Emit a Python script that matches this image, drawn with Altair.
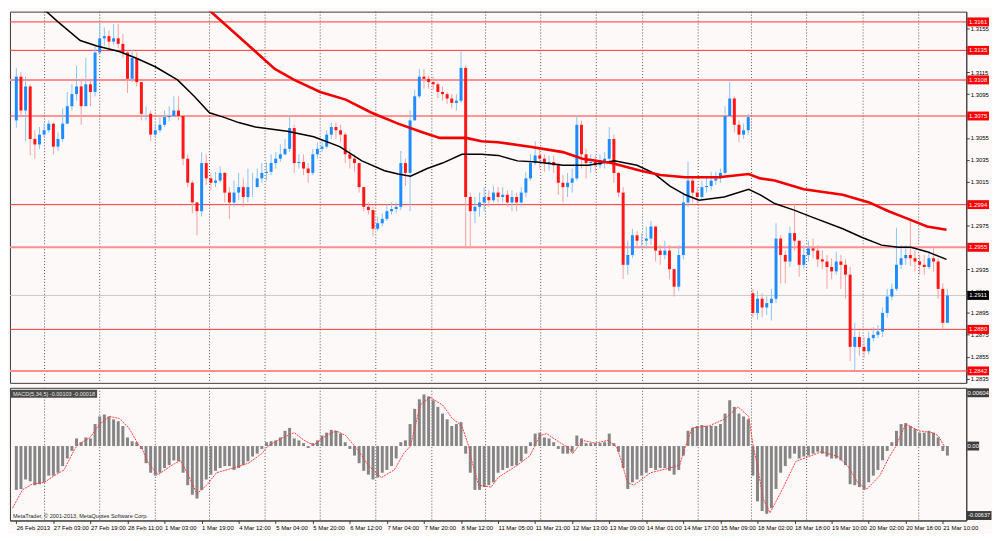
import altair as alt
import pandas as pd

# ---------------- values (2-hour bars) ----------------
opens = [
    1.3071, 1.3111, 1.3080, 1.3102, 1.3054, 1.3049, 1.3058, 1.3062, 1.3068, 1.3047,
    1.3054, 1.3068, 1.3084, 1.3095, 1.3102, 1.3084, 1.3104, 1.3097, 1.3133, 1.3146,
    1.3148, 1.3143, 1.3146, 1.3141, 1.3133, 1.3109, 1.3128, 1.3106, 1.3077, 1.3077,
    1.3058, 1.3062, 1.3067, 1.3074, 1.3075, 1.3080, 1.3075, 1.3036, 1.3014, 1.2996,
    1.2988, 1.3032, 1.3018, 1.3014, 1.3016, 1.3023, 1.3005, 1.2996, 1.3005, 1.3010,
    1.3001, 1.3010, 1.3010, 1.3018, 1.3023, 1.3024, 1.3032, 1.3036, 1.3040, 1.3045,
    1.3064, 1.3032, 1.3033, 1.3027, 1.3023, 1.3040, 1.3045, 1.3047, 1.3058, 1.3065,
    1.3062, 1.3058, 1.3040, 1.3036, 1.3032, 1.3010, 1.2992, 1.2989, 1.2972, 1.2977,
    1.2981, 1.2988, 1.2990, 1.2992, 1.3032, 1.3023, 1.3071, 1.3093, 1.3111, 1.3109,
    1.3106, 1.3104, 1.3097, 1.3095, 1.3091, 1.3087, 1.3089, 1.3119, 1.3001, 1.2988,
    1.2992, 1.2996, 1.3001, 1.2998, 1.3005, 1.3001, 1.3003, 1.2996, 1.3001, 1.2996,
    1.3005, 1.3018, 1.3032, 1.3039, 1.3036, 1.3032, 1.3033, 1.3030, 1.3014, 1.3010,
    1.3014, 1.3018, 1.3067, 1.3040, 1.3032, 1.3033, 1.3030, 1.3033, 1.3036, 1.3054,
    1.3023, 1.3005, 1.2939, 1.2948, 1.2966, 1.2961, 1.2961, 1.2963, 1.2974, 1.2952,
    1.2948, 1.2952, 1.2935, 1.2919, 1.2948, 1.2996, 1.3016, 1.3005, 1.3001, 1.3010,
    1.3011, 1.3016, 1.3018, 1.3023, 1.3075, 1.3091, 1.3067, 1.3058, 1.3062, 1.2913,
    1.2895, 1.2908, 1.2900, 1.2904, 1.2908, 1.2963, 1.2948, 1.2942, 1.2968, 1.2961,
    1.2939, 1.2948, 1.2954, 1.2952, 1.2944, 1.2942, 1.2937, 1.2933, 1.2942, 1.2939,
    1.2930, 1.2864, 1.2873, 1.2864, 1.2860, 1.2872, 1.2875, 1.2878, 1.2895, 1.2910,
    1.2917, 1.2939, 1.2945, 1.2948, 1.2945, 1.2942, 1.2939, 1.2937, 1.2945, 1.2942,
    1.2917, 1.2886]

highs = [
    1.3119, 1.3115, 1.3111, 1.3104, 1.3062, 1.3065, 1.3068, 1.3071, 1.3069, 1.3060,
    1.3082, 1.3097, 1.3104, 1.3121, 1.3109, 1.3128, 1.3109, 1.3139, 1.3161, 1.3156,
    1.3153, 1.3159, 1.3159, 1.3150, 1.3135, 1.3135, 1.3133, 1.3106, 1.3084, 1.3080,
    1.3068, 1.3074, 1.3080, 1.3084, 1.3093, 1.3093, 1.3075, 1.3040, 1.3016, 1.2996,
    1.3042, 1.3040, 1.3023, 1.3024, 1.3029, 1.3024, 1.3010, 1.3016, 1.3023, 1.3018,
    1.3027, 1.3023, 1.3027, 1.3032, 1.3033, 1.3040, 1.3042, 1.3049, 1.3054, 1.3075,
    1.3067, 1.3040, 1.3040, 1.3032, 1.3045, 1.3051, 1.3054, 1.3062, 1.3069, 1.3069,
    1.3067, 1.3060, 1.3045, 1.3040, 1.3032, 1.3010, 1.2996, 1.2992, 1.2983, 1.2986,
    1.2994, 1.2996, 1.2996, 1.3043, 1.3036, 1.3080, 1.3099, 1.3118, 1.3118, 1.3112,
    1.3111, 1.3106, 1.3102, 1.3097, 1.3095, 1.3095, 1.3134, 1.3121, 1.3005, 1.3001,
    1.3005, 1.3010, 1.3007, 1.3011, 1.3010, 1.3010, 1.3007, 1.3007, 1.3005, 1.3010,
    1.3024, 1.3040, 1.3052, 1.3045, 1.3040, 1.3039, 1.3039, 1.3032, 1.3021, 1.3023,
    1.3027, 1.3075, 1.3071, 1.3045, 1.3040, 1.3039, 1.3040, 1.3042, 1.3065, 1.3058,
    1.3024, 1.3010, 1.2961, 1.2972, 1.2970, 1.2968, 1.2974, 1.2979, 1.2974, 1.2957,
    1.2961, 1.2957, 1.2935, 1.2957, 1.3005, 1.3033, 1.3018, 1.3010, 1.3016, 1.3018,
    1.3024, 1.3024, 1.3027, 1.3084, 1.3106, 1.3093, 1.3071, 1.3068, 1.3077, 1.2917,
    1.2915, 1.2913, 1.2910, 1.2917, 1.2977, 1.2966, 1.2952, 1.2974, 1.2995, 1.2961,
    1.2957, 1.2961, 1.2963, 1.2957, 1.2952, 1.2948, 1.2945, 1.2951, 1.2948, 1.2944,
    1.2937, 1.2886, 1.2878, 1.2873, 1.2878, 1.2882, 1.2884, 1.2900, 1.2917, 1.2922,
    1.2973, 1.2957, 1.2957, 1.2979, 1.2952, 1.2948, 1.2948, 1.2952, 1.2954, 1.2945,
    1.2922, 1.2917]

lows = [
    1.3064, 1.3074, 1.3052, 1.3039, 1.3036, 1.3045, 1.3056, 1.3060, 1.3040, 1.3043,
    1.3051, 1.3068, 1.3080, 1.3089, 1.3067, 1.3084, 1.3084, 1.3093, 1.3133, 1.3139,
    1.3137, 1.3140, 1.3137, 1.3128, 1.3096, 1.3106, 1.3102, 1.3071, 1.3071, 1.3052,
    1.3055, 1.3060, 1.3065, 1.3070, 1.3074, 1.3071, 1.3030, 1.3010, 1.2986, 1.2966,
    1.2983, 1.3012, 1.3007, 1.3010, 1.3014, 1.2996, 1.2981, 1.2992, 1.2998, 1.2992,
    1.2996, 1.3001, 1.3010, 1.3014, 1.3016, 1.3021, 1.3027, 1.3033, 1.3039, 1.3042,
    1.3023, 1.3027, 1.3021, 1.3014, 1.3021, 1.3036, 1.3042, 1.3045, 1.3054, 1.3054,
    1.3051, 1.3032, 1.3027, 1.3024, 1.3005, 1.2988, 1.2985, 1.2965, 1.2970, 1.2974,
    1.2979, 1.2985, 1.2986, 1.2989, 1.3011, 1.2988, 1.3071, 1.3091, 1.3100, 1.3100,
    1.3099, 1.3091, 1.3089, 1.3086, 1.3082, 1.3080, 1.3087, 1.2954, 1.2954, 1.2977,
    1.2983, 1.2988, 1.2992, 1.2996, 1.2996, 1.2996, 1.2992, 1.2988, 1.2988, 1.2992,
    1.3001, 1.3016, 1.3030, 1.3027, 1.3024, 1.3025, 1.3023, 1.3003, 1.2996, 1.3001,
    1.3005, 1.3016, 1.3027, 1.3018, 1.3023, 1.3024, 1.3027, 1.3027, 1.3032, 1.3014,
    1.3001, 1.2926, 1.2930, 1.2945, 1.2954, 1.2954, 1.2954, 1.2957, 1.2942, 1.2939,
    1.2944, 1.2926, 1.2910, 1.2915, 1.2944, 1.2992, 1.2996, 1.2995, 1.2998, 1.3005,
    1.3007, 1.3012, 1.3014, 1.3021, 1.3074, 1.3060, 1.3051, 1.3054, 1.3058, 1.2891,
    1.2889, 1.2891, 1.2893, 1.2888, 1.2904, 1.2922, 1.2922, 1.2937, 1.2952, 1.2928,
    1.2935, 1.2942, 1.2945, 1.2937, 1.2935, 1.2917, 1.2926, 1.2930, 1.2917, 1.2908,
    1.2851, 1.2843, 1.2856, 1.2854, 1.2857, 1.2869, 1.2872, 1.2873, 1.2891, 1.2907,
    1.2915, 1.2935, 1.2939, 1.2938, 1.2933, 1.2930, 1.2930, 1.2935, 1.2933, 1.2908,
    1.2880, 1.2889]

closes = [
    1.3111, 1.3080, 1.3102, 1.3054, 1.3049, 1.3058, 1.3062, 1.3068, 1.3047, 1.3054,
    1.3068, 1.3084, 1.3095, 1.3102, 1.3084, 1.3104, 1.3097, 1.3133, 1.3146, 1.3148,
    1.3143, 1.3146, 1.3141, 1.3133, 1.3109, 1.3128, 1.3106, 1.3077, 1.3077, 1.3058,
    1.3062, 1.3067, 1.3074, 1.3075, 1.3080, 1.3075, 1.3036, 1.3014, 1.2996, 1.2988,
    1.3032, 1.3018, 1.3014, 1.3016, 1.3023, 1.3005, 1.2996, 1.3005, 1.3010, 1.3001,
    1.3010, 1.3010, 1.3018, 1.3023, 1.3024, 1.3032, 1.3036, 1.3040, 1.3045, 1.3064,
    1.3032, 1.3033, 1.3027, 1.3023, 1.3040, 1.3045, 1.3047, 1.3058, 1.3065, 1.3062,
    1.3058, 1.3040, 1.3036, 1.3032, 1.3010, 1.2992, 1.2989, 1.2972, 1.2977, 1.2981,
    1.2988, 1.2990, 1.2992, 1.3032, 1.3023, 1.3071, 1.3093, 1.3111, 1.3109, 1.3106,
    1.3104, 1.3097, 1.3095, 1.3091, 1.3087, 1.3089, 1.3119, 1.3001, 1.2988, 1.2992,
    1.2996, 1.3001, 1.2998, 1.3005, 1.3001, 1.3003, 1.2996, 1.3001, 1.2996, 1.3005,
    1.3018, 1.3032, 1.3039, 1.3036, 1.3032, 1.3033, 1.3030, 1.3014, 1.3010, 1.3014,
    1.3018, 1.3067, 1.3040, 1.3032, 1.3033, 1.3030, 1.3033, 1.3036, 1.3054, 1.3023,
    1.3005, 1.2939, 1.2948, 1.2966, 1.2961, 1.2961, 1.2963, 1.2974, 1.2952, 1.2948,
    1.2952, 1.2935, 1.2919, 1.2948, 1.2996, 1.3016, 1.3005, 1.3001, 1.3010, 1.3011,
    1.3016, 1.3018, 1.3023, 1.3075, 1.3091, 1.3067, 1.3058, 1.3062, 1.3074, 1.2895,
    1.2908, 1.2900, 1.2904, 1.2908, 1.2963, 1.2948, 1.2942, 1.2968, 1.2961, 1.2939,
    1.2948, 1.2954, 1.2952, 1.2944, 1.2942, 1.2937, 1.2933, 1.2942, 1.2939, 1.2930,
    1.2864, 1.2873, 1.2864, 1.2860, 1.2872, 1.2875, 1.2878, 1.2895, 1.2910, 1.2917,
    1.2939, 1.2945, 1.2948, 1.2945, 1.2942, 1.2939, 1.2937, 1.2945, 1.2942, 1.2917,
    1.2886, 1.2911]

macd_hist = [
    -0.00455, -0.00446, -0.00347, -0.00366, -0.00406, -0.00396, -0.00376, -0.00307, -0.00307, -0.00277,
    -0.00208, -0.00129, -0.00050, 0.00079, 0.00040, 0.00089, 0.00079, 0.00228, 0.00307, 0.00327,
    0.00307, 0.00277, 0.00257, 0.00208, 0.00089, 0.00050, 0.00040, -0.00030, -0.00178, -0.00277,
    -0.00307, -0.00277, -0.00228, -0.00198, -0.00149, -0.00158, -0.00277, -0.00406, -0.00505, -0.00545,
    -0.00455, -0.00347, -0.00297, -0.00257, -0.00228, -0.00208, -0.00208, -0.00248, -0.00228, -0.00198,
    -0.00158, -0.00109, -0.00079, -0.00030, 0.00040, 0.00050, 0.00059, 0.00089, 0.00158, 0.00188,
    0.00079, 0.00059, 0.00030, -0.00020, 0.00030, 0.00059, 0.00109, 0.00139, 0.00168, 0.00158,
    0.00129, 0.00040, -0.00030, -0.00099, -0.00178, -0.00257, -0.00297, -0.00347, -0.00327, -0.00277,
    -0.00248, -0.00208, -0.00129, 0.00040, 0.00059, 0.00228, 0.00386, 0.00485, 0.00535, 0.00515,
    0.00475, 0.00406, 0.00337, 0.00277, 0.00208, 0.00228, 0.00248, -0.00079, -0.00277, -0.00455,
    -0.00455, -0.00426, -0.00406, -0.00376, -0.00277, -0.00248, -0.00228, -0.00208, -0.00198, -0.00158,
    -0.00079, 0.00040, 0.00129, 0.00139, 0.00089, 0.00079, 0.00040, -0.00030, -0.00079, -0.00079,
    -0.00059, 0.00109, 0.00079, 0.00030, 0.00030, 0.00030, 0.00030, 0.00040, 0.00129, 0.00030,
    -0.00059, -0.00228, -0.00446, -0.00376, -0.00347, -0.00307, -0.00277, -0.00228, -0.00248, -0.00228,
    -0.00228, -0.00257, -0.00297, -0.00248, -0.00099, 0.00158, 0.00188, 0.00208, 0.00218, 0.00208,
    0.00208, 0.00208, 0.00228, 0.00337, 0.00475, 0.00406, 0.00337, 0.00307, 0.00277, -0.00307,
    -0.00574, -0.00673, -0.00703, -0.00644, -0.00446, -0.00277, -0.00208, -0.00129, -0.00079, -0.00129,
    -0.00109, -0.00099, -0.00079, -0.00059, -0.00079, -0.00109, -0.00129, -0.00129, -0.00149, -0.00198,
    -0.00396, -0.00406, -0.00426, -0.00455, -0.00376, -0.00307, -0.00248, -0.00149, -0.00050, 0.00040,
    0.00158, 0.00228, 0.00238, 0.00208, 0.00178, 0.00139, 0.00139, 0.00158, 0.00139, 0.00089,
    -0.00050, -0.00099]

sig_idx = [
    -0.8, 1.3, 3.4, 6.1, 8.2, 10.3, 12.4, 13.2, 15.9, 18.0,
    20.1, 22.2, 24.3, 26.4, 27.0, 28.5, 30.6, 33.3, 35.4, 36.9,
    39.0, 41.1, 43.2, 46.8, 50.1, 53.0, 54.3, 57.2, 60.0, 62.1,
    64.2, 66.9, 69.0, 71.1, 73.2, 74.0, 76.1, 78.8, 81.6, 83.6,
    85.1, 87.2, 89.3, 92.0, 94.1, 96.2, 97.7, 98.3, 99.8, 102.5,
    104.0, 108.2, 110.9, 113.0, 114.5, 117.2, 119.3, 120.1, 122.2, 125.0,
    127.7, 129.6, 130.6, 131.9, 133.3, 136.9, 141.1, 143.2, 144.4, 145.9,
    149.5, 152.8, 155.8, 158.1, 159.1, 160.0, 161.2, 162.7, 165.4, 168.3,
    171.1, 173.8, 177.4, 179.5, 181.6, 183.6, 186.4, 188.5, 189.9, 192.0,
    194.8, 197.7, 199.0, 200.4]
sig_val = [
    -0.00644, -0.00455, -0.00396, -0.00376, -0.00307, -0.00248, -0.00050, 0.00010, 0.00089, 0.00228,
    0.00307, 0.00287, 0.00188, 0.00010, -0.00010, -0.00178, -0.00297, -0.00208, -0.00149, -0.00277,
    -0.00495, -0.00406, -0.00277, -0.00228, -0.00178, -0.00079, 0.00000, 0.00079, 0.00139, 0.00059,
    0.00010, 0.00109, 0.00158, 0.00109, -0.00010, -0.00059, -0.00208, -0.00327, -0.00248, -0.00079,
    0.00000, 0.00426, 0.00505, 0.00426, 0.00287, 0.00208, -0.00010, -0.00149, -0.00406, -0.00426,
    -0.00327, -0.00198, -0.00099, 0.00109, 0.00129, 0.00040, -0.00020, -0.00079, 0.00059, 0.00030,
    0.00059, -0.00010, -0.00149, -0.00376, -0.00406, -0.00277, -0.00228, -0.00198, -0.00010, 0.00188,
    0.00208, 0.00277, 0.00406, 0.00307, -0.00010, -0.00208, -0.00545, -0.00693, -0.00446, -0.00158,
    -0.00109, -0.00059, -0.00109, -0.00208, -0.00376, -0.00446, -0.00307, -0.00109, 0.00000, 0.00228,
    0.00158, 0.00139, 0.00109, -0.00010]

ma_black_idx = [
    6.1, 9.0, 13.8, 17.4, 22.2, 25.8, 30.0, 34.8, 38.4, 41.7,
    44.7, 48.0, 51.6, 58.5, 64.2, 69.8, 74.6, 79.5, 82.4, 85.1,
    88.7, 92.0, 96.2, 100.4, 104.0, 108.2, 112.4, 118.0, 123.5, 129.1,
    134.0, 137.5, 141.1, 144.4, 147.4, 152.8, 158.1, 160.6, 163.7, 167.9,
    171.5, 178.4, 182.6, 186.8, 190.4, 193.1, 196.6, 200.8]
ma_black_val = [
    1.3172, 1.3161, 1.3144, 1.3139, 1.3134, 1.3128, 1.3120, 1.3108, 1.3093, 1.3078,
    1.3074, 1.3069, 1.3065, 1.3061, 1.3056, 1.3047, 1.3034, 1.3025, 1.3022, 1.3020,
    1.3027, 1.3032, 1.3040, 1.3040, 1.3039, 1.3034, 1.3033, 1.3030, 1.3030, 1.3034,
    1.3030, 1.3023, 1.3011, 1.3003, 1.2998, 1.3001, 1.3008, 1.3003, 1.2995, 1.2989,
    1.2983, 1.2972, 1.2964, 1.2957, 1.2955, 1.2955, 1.2951, 1.2944]

ma_red_idx = [
    41.3, 51.6, 55.8, 60.0, 65.6, 71.1, 76.7, 82.4, 87.8, 91.4,
    97.1, 100.4, 104.0, 110.9, 118.0, 122.2, 128.5, 134.8, 139.0, 144.4,
    151.6, 158.1, 160.6, 163.7, 170.0, 178.4, 184.1, 188.3, 192.5, 196.6,
    200.8]
ma_red_val = [
    1.3173, 1.3134, 1.3118, 1.3108, 1.3097, 1.3090, 1.3078, 1.3068, 1.3060, 1.3055,
    1.3055, 1.3052, 1.3051, 1.3047, 1.3042, 1.3036, 1.3032, 1.3025, 1.3021, 1.3019,
    1.3019, 1.3022, 1.3018, 1.3016, 1.3008, 1.3003, 1.2996, 1.2988, 1.2981, 1.2974,
    1.2971]

levels_thin = [1.3161, 1.3135, 1.3075, 1.2994, 1.2880]
levels_thick = [1.3108, 1.2955, 1.2842]
last_price = 1.2911

price_ticks = [1.2835, 1.2855, 1.2875, 1.2895, 1.2915, 1.2935, 1.2955, 1.2975, 1.2995,
               1.3015, 1.3035, 1.3055, 1.3075, 1.3095, 1.3115, 1.3135, 1.3155]

x_labels = ["26 Feb 2013", "27 Feb 03:00", "27 Feb 19:00", "28 Feb 11:00", "1 Mar 03:00",
            "1 Mar 19:00", "4 Mar 12:00", "5 Mar 04:00", "5 Mar 20:00", "6 Mar 12:00",
            "7 Mar 04:00", "7 Mar 20:00", "8 Mar 12:00", "11 Mar 05:00", "11 Mar 21:00",
            "12 Mar 13:00", "13 Mar 09:00", "14 Mar 01:00", "14 Mar 17:00", "15 Mar 09:00",
            "18 Mar 02:00", "18 Mar 18:00", "19 Mar 10:00", "20 Mar 02:00", "20 Mar 18:00",
            "21 Mar 10:00"]
bars_per_label = 8

grid_idx = [6.1, 18.0, 30.0, 41.7, 53.7, 65.6, 77.6, 89.7, 101.3, 113.2, 125.2,
            135.2, 147.2, 158.7, 170.6, 182.8, 194.8]

macd_title = "MACD(5,34,5) -0.00103 -0.00018"
macd_max_label = "0.00604"
macd_zero_label = "0.00"
macd_min_label = "-0.00637"
copyright_text = "MetaTrader, \u00a9 2001-2013, MetaQuotes Software Corp."

# ---------------- layout / style ----------------
W, H1, H2 = 966, 375, 134
BG = "#fdf9f8"
FONT = "Liberation Sans"
UP, DN = "#1e8cff", "#ff1616"
UPW, DNW = "#8ec3f3", "#f5a2a2"
FRAME = "#3c3c3c"

N = len(closes)
bars = pd.DataFrame({"i": list(range(N)), "open": opens, "high": highs,
                     "low": lows, "close": closes, "macd": macd_hist})

xs = alt.Scale(domain=[-0.3, 204.0], nice=False, zero=False)
ps = alt.Scale(domain=[1.28311, 1.31704], nice=False, zero=False)
ms = alt.Scale(domain=[-0.00772, 0.00604], nice=False, zero=False)

p_axis = alt.Axis(orient="right", values=price_ticks, format=".4f", title=None, grid=False,
                  labelFontSize=6, labelFont=FONT, labelColor="#000", labelPadding=1,
                  tickSize=3, tickColor=FRAME, domainColor=FRAME, labelOverlap=False,
                  labelFlush=False)
m_axis = alt.Axis(orient="right", labels=False, ticks=False, title=None, grid=False,
                  domainColor=FRAME)
label_expr = "[" + ",".join(repr(s) for s in x_labels) + "][round(datum.value / %d)]" % bars_per_label
x_axis = alt.Axis(values=list(range(0, bars_per_label * len(x_labels), bars_per_label)),
                  labelExpr=label_expr, title=None, grid=False, labelAlign="left",
                  labelBaseline="top", labelFontSize=6, labelFont=FONT, labelColor="#000",
                  labelPadding=1, tickSize=3, tickColor=FRAME, domainColor=FRAME,
                  labelOverlap=False, labelFlush=False, labelBound=False)


def xp(f="i:Q"):
    return alt.X(f, scale=xs, axis=None)


def yp(f):
    return alt.Y(f, scale=ps, axis=p_axis)


def xm(f="i:Q"):
    return alt.X(f, scale=xs, axis=x_axis)


def ym(f):
    return alt.Y(f, scale=ms, axis=m_axis)


def box(w, h):
    s = float(max(w, h))
    a, b = w / s, h / s
    return "M-%.3f,-%.3fL%.3f,-%.3fL%.3f,%.3fL-%.3f,%.3fZ" % (a, b, a, b, a, b, a, b), s * s


up_test = alt.datum.close >= alt.datum.open
grid_df = pd.DataFrame({"i": grid_idx})

# ---------------- price panel ----------------
grid_p = alt.Chart(grid_df).mark_rule(color="#555", strokeDash=[1, 2], strokeWidth=1).encode(x=xp())
last_line = alt.Chart(pd.DataFrame({"p": [last_price]})).mark_rule(
    color="#c8c8c8", strokeWidth=1).encode(y=yp("p:Q"))
lv_thin = alt.Chart(pd.DataFrame({"p": levels_thin})).mark_rule(
    color="#ff3434", strokeWidth=1).encode(y=yp("p:Q"))
lv_thick = alt.Chart(pd.DataFrame({"p": levels_thick})).mark_rule(
    color="#ff8e8e", strokeWidth=2).encode(y=yp("p:Q"))
wicks = alt.Chart(bars).mark_rule(strokeWidth=1).encode(
    x=xp(), y=yp("low:Q"), y2="high:Q",
    color=alt.condition(up_test, alt.value(UPW), alt.value(DNW)))
bodies = alt.Chart(bars).mark_bar(width=3).encode(
    x=xp(), y=yp("open:Q"), y2="close:Q",
    color=alt.condition(up_test, alt.value(UP), alt.value(DN)))
ma_b = alt.Chart(pd.DataFrame({"i": ma_black_idx, "p": ma_black_val})).mark_line(
    color="#000000", strokeWidth=1.5, clip=True).encode(x=xp(), y=yp("p:Q"))
ma_r = alt.Chart(pd.DataFrame({"i": ma_red_idx, "p": ma_red_val})).mark_line(
    color="#f20000", strokeWidth=2.6, clip=True).encode(x=xp(), y=yp("p:Q"))

lvl_all = levels_thin + levels_thick
lv_df = pd.DataFrame({"p": lvl_all, "t": ["%.4f" % v for v in lvl_all]})
last_df = pd.DataFrame({"p": [last_price], "t": ["%.4f" % last_price]})
bp, bs = box(22, 9)
red_box = alt.Chart(lv_df).mark_point(shape=bp, size=bs, filled=True, opacity=1,
                                      color="#ff0000", strokeWidth=0).encode(
    x=alt.value(W + 12), y=yp("p:Q"))
red_txt = alt.Chart(lv_df).mark_text(color="#ffffff", fontSize=6, font=FONT,
                                     align="center", baseline="middle").encode(
    x=alt.value(W + 12), y=yp("p:Q"), text="t:N")
blk_box = alt.Chart(last_df).mark_point(shape=bp, size=bs, filled=True, opacity=1,
                                        color="#000000", strokeWidth=0).encode(
    x=alt.value(W + 12), y=yp("p:Q"))
blk_txt = alt.Chart(last_df).mark_text(color="#ffffff", fontSize=6, font=FONT,
                                       align="center", baseline="middle").encode(
    x=alt.value(W + 12), y=yp("p:Q"), text="t:N")

price = alt.layer(grid_p, last_line, lv_thin, lv_thick, wicks, bodies, ma_b, ma_r,
                  red_box, red_txt, blk_box, blk_txt).properties(width=W, height=H1)

# ---------------- MACD panel ----------------
grid_m = alt.Chart(grid_df).mark_rule(color="#555", strokeDash=[1, 2], strokeWidth=1).encode(x=xm())
hist = alt.Chart(bars).mark_bar(width=3, color="#858585").encode(
    x=xm(), y=ym("macd:Q"), y2=alt.datum(0))
sig = alt.Chart(pd.DataFrame({"i": sig_idx, "v": sig_val})).mark_line(
    color="#ff3a3a", strokeWidth=1, strokeDash=[2, 1], clip=True).encode(x=xm(), y=ym("v:Q"))

zp, zs = box(12, 9)
tp, ts = box(22, 9)
lp, ls = box(25, 9)
zero_df = pd.DataFrame({"v": [0.0], "t": [macd_zero_label]})
zero_box = alt.Chart(zero_df).mark_point(shape=zp, size=zs, filled=True, opacity=1,
                                         color="#3c3c3c", strokeWidth=0).encode(
    x=alt.value(W + 7), y=ym("v:Q"))
zero_txt = alt.Chart(zero_df).mark_text(color="#ffffff", fontSize=6, font=FONT,
                                        align="center", baseline="middle").encode(
    x=alt.value(W + 7), y=ym("v:Q"), text="t:N")
top_df = pd.DataFrame({"t": [macd_max_label]})
top_box = alt.Chart(top_df).mark_point(shape=tp, size=ts, filled=True, opacity=1,
                                       color="#3c3c3c", strokeWidth=0).encode(
    x=alt.value(W + 12), y=alt.value(5))
top_txt = alt.Chart(top_df).mark_text(color="#ffffff", fontSize=6, font=FONT,
                                      align="center", baseline="middle").encode(
    x=alt.value(W + 12), y=alt.value(5), text="t:N")
bot_df = pd.DataFrame({"t": [macd_min_label]})
bot_box = alt.Chart(bot_df).mark_point(shape=lp, size=ls, filled=True, opacity=1,
                                       color="#3c3c3c", strokeWidth=0).encode(
    x=alt.value(W + 13), y=alt.value(H2 - 5))
bot_txt = alt.Chart(bot_df).mark_text(color="#ffffff", fontSize=5.6, font=FONT,
                                      align="center", baseline="middle").encode(
    x=alt.value(W + 13), y=alt.value(H2 - 5), text="t:N")

title_df = pd.DataFrame({"t": [macd_title]})
title_box = alt.Chart(title_df).mark_rect(color="#4a4a4a").encode(
    x=alt.value(1), x2=alt.value(88), y=alt.value(2), y2=alt.value(10))
title_txt = alt.Chart(title_df).mark_text(color="#e4e4e4", fontSize=5.6, font=FONT,
                                          align="left", baseline="middle").encode(
    x=alt.value(3), y=alt.value(6), text="t:N")
copy_df = pd.DataFrame({"t": [copyright_text]})
copy_txt = alt.Chart(copy_df).mark_text(color="#222222", fontSize=5.6, font=FONT,
                                        align="left", baseline="middle").encode(
    x=alt.value(3), y=alt.value(H2 - 4), text="t:N")

macd = alt.layer(grid_m, hist, sig, title_box, title_txt, copy_txt, zero_box, zero_txt,
                 top_box, top_txt, bot_box, bot_txt).properties(width=W, height=H2)

chart = alt.vconcat(price, macd, spacing=3).properties(
    padding=0, background=BG
).configure_view(stroke=FRAME, strokeWidth=1, fill=BG).configure_axis(
    labelFont=FONT
).configure_text(font=FONT)

chart.save("out.html", embed_options={"renderer": "svg", "actions": False})
